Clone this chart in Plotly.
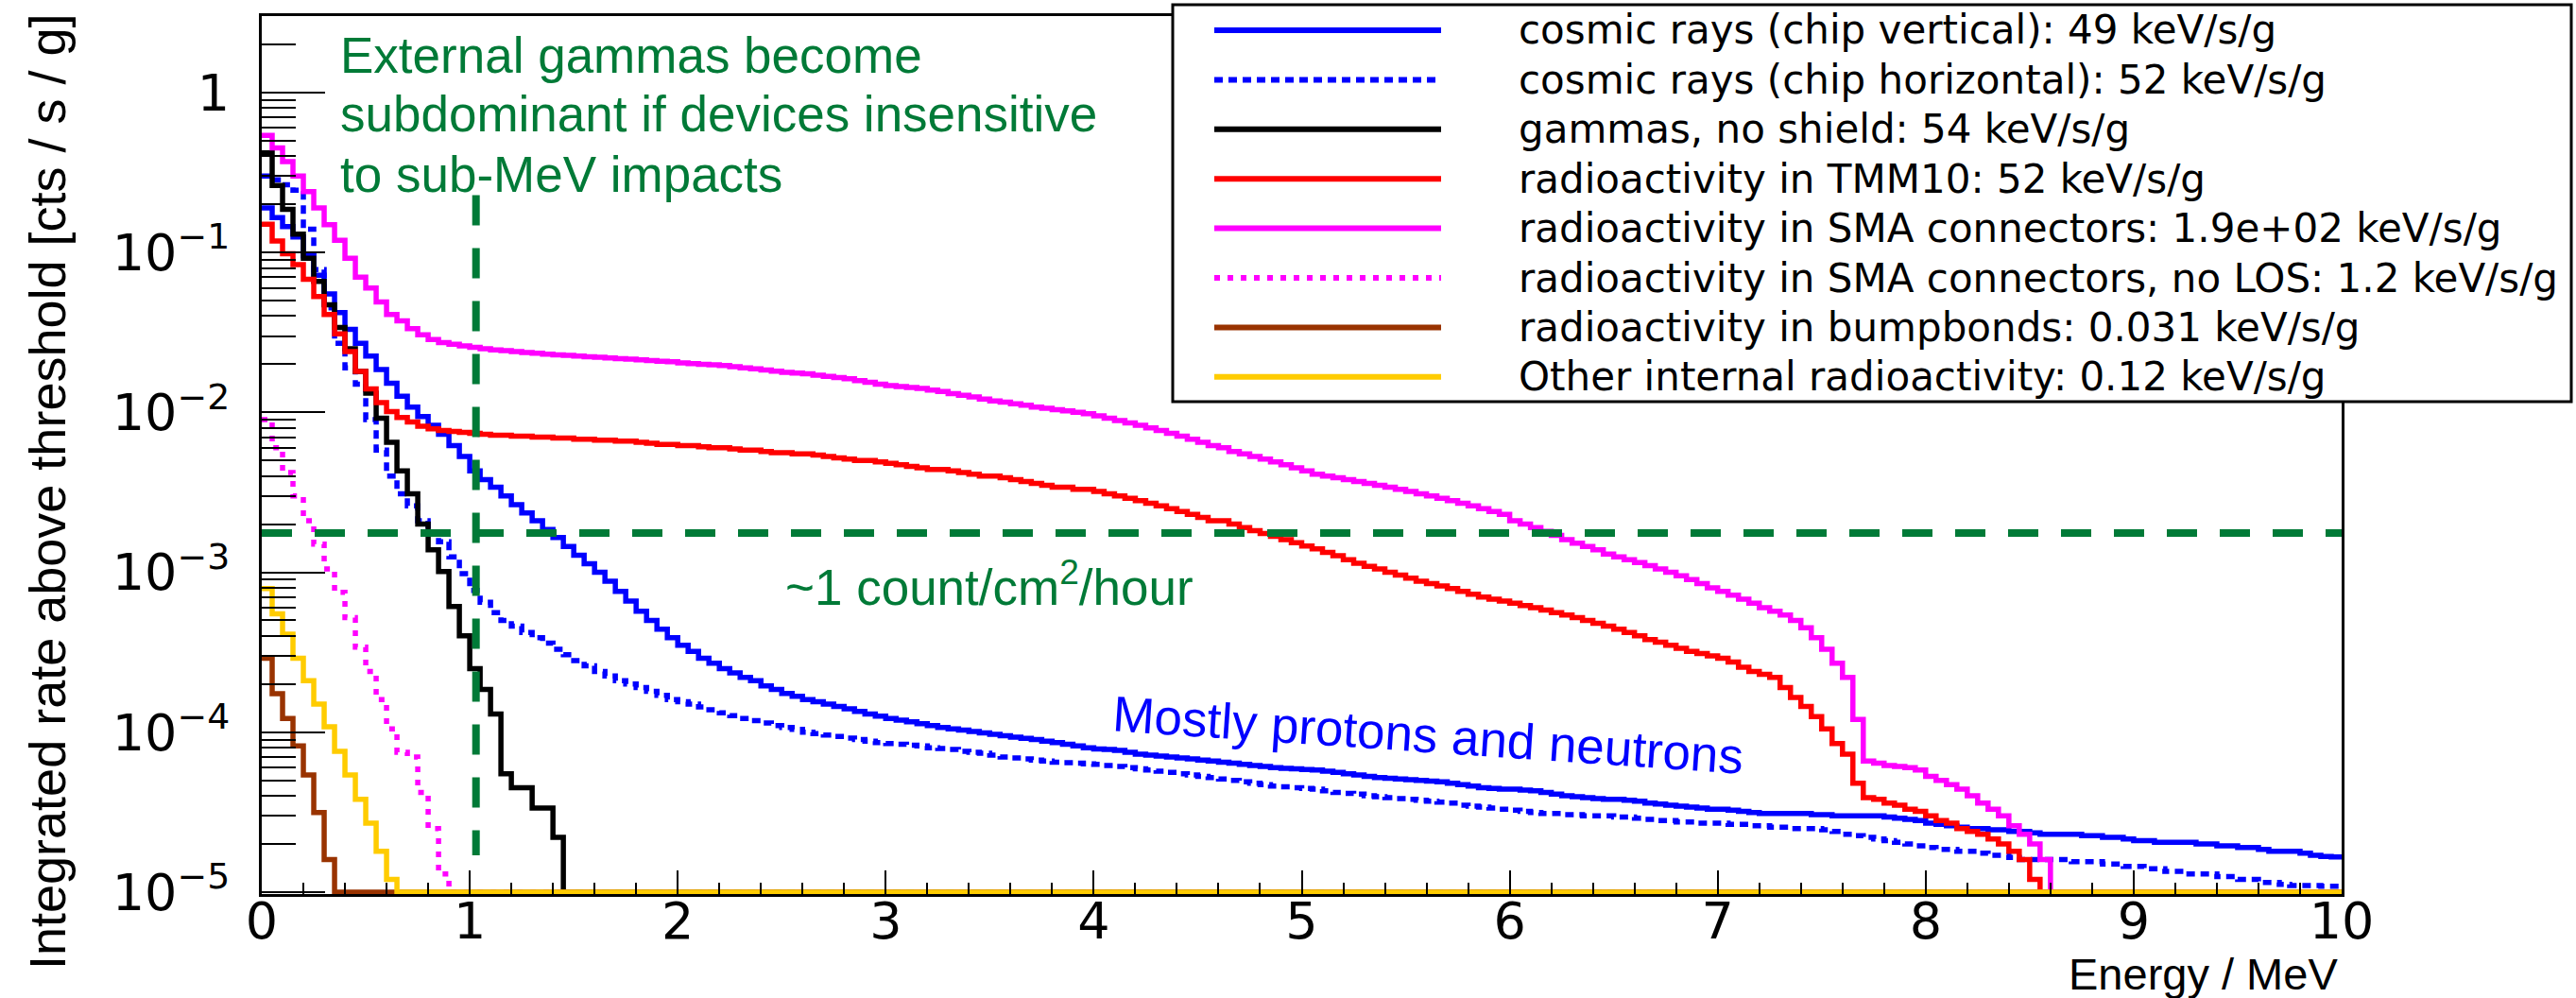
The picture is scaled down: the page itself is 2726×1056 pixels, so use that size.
import numpy as np
import plotly.graph_objects as go

# ---------------------------------------------------------------------------
# Integrated rate above threshold, histogrammed in 0.05 MeV bins from 0 to 10 MeV.
# Each list gives the rate [cts/s/g] per bin, starting at 0 MeV; bins not listed are empty.
# ---------------------------------------------------------------------------
BIN_WIDTH = 0.05
E_MAX = 10.0

cosmic_vertical = [
    0.19, 0.165, 0.145, 0.125, 0.095, 0.072, 0.055, 0.042, 0.033, 0.027,
    0.0225, 0.0185, 0.0152, 0.0126, 0.0108, 0.0094, 0.0083, 0.0073, 0.0062, 0.0053,
    4.3e-3, 3.8e-3, 3.4e-3, 3.0e-3, 2.65e-3, 2.35e-3, 2.1e-3, 1.85e-3, 1.65e-3, 1.45e-3,
    1.28e-3, 1.13e-3, 1.0e-3, 8.8e-4, 7.6e-4, 6.6e-4, 5.7e-4, 5.0e-4, 4.4e-4, 3.9e-4,
    3.5e-4, 3.2e-4, 2.9e-4, 2.7e-4, 2.5e-4, 2.35e-4, 2.2e-4, 2.1e-4, 1.95e-4, 1.85e-4,
    1.75e-4, 1.68e-4, 1.6e-4, 1.55e-4, 1.5e-4, 1.45e-4, 1.4e-4, 1.35e-4, 1.3e-4, 1.26e-4,
    1.22e-4, 1.19e-4, 1.16e-4, 1.13e-4, 1.1e-4, 1.07e-4, 1.05e-4, 1.03e-4, 1.01e-4, 9.9e-5,
    9.7e-5, 9.5e-5, 9.3e-5, 9.15e-5, 9.0e-5, 8.8e-5, 8.6e-5, 8.4e-5, 8.2e-5, 8.0e-5,
    7.85e-5, 7.8e-5, 7.7e-5, 7.5e-5, 7.3e-5, 7.2e-5, 7.1e-5, 7.0e-5, 6.9e-5, 6.8e-5,
    6.7e-5, 6.6e-5, 6.5e-5, 6.4e-5, 6.3e-5, 6.2e-5, 6.1e-5, 6.0e-5, 5.95e-5, 5.9e-5,
    5.85e-5, 5.8e-5, 5.7e-5, 5.6e-5, 5.5e-5, 5.4e-5, 5.3e-5, 5.2e-5, 5.15e-5, 5.1e-5,
    5.05e-5, 5.0e-5, 4.95e-5, 4.9e-5, 4.8e-5, 4.7e-5, 4.6e-5, 4.5e-5, 4.45e-5, 4.4e-5,
    4.4e-5, 4.35e-5, 4.3e-5, 4.2e-5, 4.1e-5, 4.0e-5, 3.95e-5, 3.9e-5, 3.85e-5, 3.8e-5,
    3.8e-5, 3.75e-5, 3.7e-5, 3.6e-5, 3.55e-5, 3.5e-5, 3.45e-5, 3.4e-5, 3.35e-5, 3.3e-5,
    3.3e-5, 3.25e-5, 3.2e-5, 3.15e-5, 3.1e-5, 3.1e-5, 3.1e-5, 3.1e-5, 3.1e-5, 3.05e-5,
    3.05e-5, 3.0e-5, 3.0e-5, 3.0e-5, 3.0e-5, 3.0e-5, 2.95e-5, 2.9e-5, 2.85e-5, 2.8e-5,
    2.7e-5, 2.65e-5, 2.6e-5, 2.55e-5, 2.5e-5, 2.5e-5, 2.45e-5, 2.45e-5, 2.4e-5, 2.4e-5,
    2.35e-5, 2.3e-5, 2.3e-5, 2.3e-5, 2.3e-5, 2.25e-5, 2.25e-5, 2.2e-5, 2.2e-5, 2.15e-5,
    2.1e-5, 2.1e-5, 2.05e-5, 2.05e-5, 2.05e-5, 2.05e-5, 2.0e-5, 2.0e-5, 1.95e-5, 1.95e-5,
    1.9e-5, 1.9e-5, 1.85e-5, 1.8e-5, 1.8e-5, 1.8e-5, 1.75e-5, 1.7e-5, 1.67e-5, 1.66e-5,
]

cosmic_horizontal = [
    0.30, 0.285, 0.265, 0.245, 0.14, 0.078, 0.045, 0.027, 0.019, 0.015,
    9.0e-3, 5.8e-3, 4.0e-3, 3.1e-3, 2.6e-3, 2.1e-3, 1.78e-3, 1.55e-3, 1.25e-3, 9.8e-4,
    7.7e-4, 6.5e-4, 5.6e-4, 5.0e-4, 4.6e-4, 4.2e-4, 3.9e-4, 3.6e-4, 3.3e-4, 3.05e-4,
    2.8e-4, 2.6e-4, 2.4e-4, 2.25e-4, 2.1e-4, 2.0e-4, 1.9e-4, 1.8e-4, 1.7e-4, 1.6e-4,
    1.55e-4, 1.5e-4, 1.44e-4, 1.38e-4, 1.32e-4, 1.27e-4, 1.22e-4, 1.18e-4, 1.14e-4, 1.1e-4,
    1.07e-4, 1.04e-4, 1.0e-4, 9.8e-5, 9.6e-5, 9.4e-5, 9.2e-5, 9.0e-5, 8.8e-5, 8.6e-5,
    8.5e-5, 8.4e-5, 8.3e-5, 8.2e-5, 8.0e-5, 7.9e-5, 7.8e-5, 7.6e-5, 7.5e-5, 7.4e-5,
    7.2e-5, 7.0e-5, 6.9e-5, 6.8e-5, 6.7e-5, 6.6e-5, 6.5e-5, 6.45e-5, 6.4e-5, 6.35e-5,
    6.3e-5, 6.2e-5, 6.1e-5, 6.0e-5, 5.9e-5, 5.8e-5, 5.7e-5, 5.6e-5, 5.5e-5, 5.4e-5,
    5.3e-5, 5.2e-5, 5.1e-5, 5.0e-5, 4.9e-5, 4.8e-5, 4.7e-5, 4.6e-5, 4.55e-5, 4.5e-5,
    4.45e-5, 4.4e-5, 4.3e-5, 4.2e-5, 4.15e-5, 4.1e-5, 4.0e-5, 3.95e-5, 3.9e-5, 3.85e-5,
    3.8e-5, 3.75e-5, 3.7e-5, 3.65e-5, 3.6e-5, 3.5e-5, 3.45e-5, 3.4e-5, 3.35e-5, 3.3e-5,
    3.25e-5, 3.2e-5, 3.15e-5, 3.1e-5, 3.1e-5, 3.05e-5, 3.05e-5, 3.0e-5, 3.0e-5, 3.0e-5,
    2.95e-5, 2.95e-5, 2.9e-5, 2.85e-5, 2.8e-5, 2.8e-5, 2.75e-5, 2.75e-5, 2.7e-5, 2.7e-5,
    2.7e-5, 2.65e-5, 2.65e-5, 2.6e-5, 2.6e-5, 2.55e-5, 2.55e-5, 2.5e-5, 2.5e-5, 2.5e-5,
    2.45e-5, 2.4e-5, 2.3e-5, 2.25e-5, 2.2e-5, 2.15e-5, 2.1e-5, 2.05e-5, 2.0e-5, 1.95e-5,
    1.9e-5, 1.85e-5, 1.85e-5, 1.8e-5, 1.8e-5, 1.75e-5, 1.7e-5, 1.7e-5, 1.65e-5, 1.6e-5,
    1.6e-5, 1.6e-5, 1.6e-5, 1.6e-5, 1.55e-5, 1.55e-5, 1.55e-5, 1.5e-5, 1.5e-5, 1.45e-5,
    1.45e-5, 1.4e-5, 1.4e-5, 1.35e-5, 1.35e-5, 1.3e-5, 1.3e-5, 1.3e-5, 1.25e-5, 1.25e-5,
    1.2e-5, 1.2e-5, 1.15e-5, 1.15e-5, 1.12e-5, 1.1e-5, 1.1e-5, 1.1e-5, 1.09e-5, 1.09e-5,
]

gammas_no_shield = [
    0.42, 0.262, 0.186, 0.130, 0.092, 0.066, 0.047, 0.034, 0.025, 0.018,
    0.0132, 0.0092, 0.0065, 0.0043, 0.0031, 0.0020, 0.00138, 0.00101, 6.1e-4, 4.0e-4,
    2.5e-4, 1.85e-4, 1.3e-4, 5.5e-5, 4.5e-5, 4.5e-5, 3.35e-5, 3.35e-5, 2.2e-5,
]

tmm10 = [
    0.15, 0.118, 0.098, 0.084, 0.068, 0.053, 0.041, 0.031, 0.024, 0.018,
    0.0140, 0.0115, 0.0101, 0.0093, 0.0087, 0.0082, 0.0079, 0.0077, 0.0076, 0.0075,
    0.0074, 0.0073, 0.0072, 0.0072, 0.0071, 0.0071, 0.0070, 0.0070, 0.0069, 0.0069,
    0.0068, 0.0068, 0.0067, 0.0067, 0.0066, 0.0066, 0.0065, 0.0064, 0.0063, 0.0063,
    0.0062, 0.0062, 0.0061, 0.0060, 0.0060, 0.0059, 0.0058, 0.0058, 0.0057, 0.0056,
    0.0056, 0.0055, 0.0055, 0.0054, 0.0053, 0.0052, 0.0051, 0.0050, 0.0050, 0.0049,
    0.0048, 0.0047, 0.0046, 0.0045, 0.0044, 0.0044, 0.0043, 0.0042, 0.0041, 0.0040,
    0.0040, 0.0039, 0.0038, 0.0037, 0.0036, 0.0035, 0.0034, 0.0034, 0.0033, 0.0033,
    0.0032, 0.0031, 0.0030, 0.0029, 0.0028, 0.0027, 0.0026, 0.0025, 0.0024, 0.0023,
    0.0022, 0.0021, 0.0021, 0.0020, 0.0019, 0.00182, 0.00175, 0.00168, 0.0016, 0.00153,
    0.00146, 0.0014, 0.00133, 0.00127, 0.0012, 0.00114, 0.00109, 0.00105, 0.0010, 9.6e-4,
    9.2e-4, 8.8e-4, 8.5e-4, 8.2e-4, 7.9e-4, 7.6e-4, 7.3e-4, 7.0e-4, 6.8e-4, 6.6e-4,
    6.4e-4, 6.2e-4, 6.0e-4, 5.8e-4, 5.6e-4, 5.4e-4, 5.2e-4, 5.0e-4, 4.8e-4, 4.6e-4,
    4.4e-4, 4.2e-4, 4.0e-4, 3.8e-4, 3.65e-4, 3.5e-4, 3.35e-4, 3.2e-4, 3.1e-4, 3.0e-4,
    2.9e-4, 2.75e-4, 2.55e-4, 2.4e-4, 2.3e-4, 2.2e-4, 1.9e-4, 1.65e-4, 1.45e-4, 1.25e-4,
    1.05e-4, 8.5e-5, 7.3e-5, 4.8e-5, 3.9e-5, 3.8e-5, 3.6e-5, 3.5e-5, 3.3e-5, 3.2e-5,
    3.0e-5, 2.8e-5, 2.7e-5, 2.5e-5, 2.4e-5, 2.3e-5, 2.15e-5, 2.0e-5, 1.8e-5, 1.6e-5,
    1.2e-5,
]

sma_connectors = [
    0.54, 0.45, 0.37, 0.30, 0.24, 0.19, 0.149, 0.119, 0.092, 0.070,
    0.060, 0.049, 0.041, 0.0374, 0.0334, 0.0305, 0.0285, 0.0273, 0.0267, 0.0260,
    0.0255, 0.0250, 0.0246, 0.0243, 0.0240, 0.0237, 0.0234, 0.0231, 0.0229, 0.0227,
    0.0225, 0.0223, 0.0221, 0.0219, 0.0217, 0.0215, 0.0213, 0.0211, 0.0209, 0.0207,
    0.0204, 0.0202, 0.0200, 0.0198, 0.0196, 0.0193, 0.0190, 0.0187, 0.0184, 0.0181,
    0.0178, 0.0176, 0.0174, 0.0171, 0.0168, 0.0165, 0.0162, 0.0158, 0.0154, 0.0150,
    0.0147, 0.0145, 0.0143, 0.0141, 0.0138, 0.0135, 0.0131, 0.0128, 0.0125, 0.0121,
    0.0118, 0.0116, 0.0113, 0.0111, 0.0108, 0.0106, 0.0104, 0.0102, 0.0100, 0.0098,
    0.0095, 0.0092, 0.0089, 0.0086, 0.0083, 0.0080, 0.0077, 0.0074, 0.0071, 0.0068,
    0.0065, 0.0062, 0.0060, 0.0057, 0.0055, 0.0053, 0.0051, 0.0049, 0.0047, 0.0045,
    0.0043, 0.0041, 0.0040, 0.0039, 0.0038, 0.0037, 0.0036, 0.0035, 0.0034, 0.0033,
    0.0032, 0.0031, 0.0030, 0.0029, 0.0028, 0.0027, 0.0026, 0.0025, 0.0024, 0.0023,
    0.0021, 0.0020, 0.0019, 0.0018, 0.0017, 0.0016, 0.00152, 0.00145, 0.00138, 0.0013,
    0.00125, 0.0012, 0.00115, 0.0011, 0.00105, 0.0010, 9.5e-4, 9.0e-4, 8.5e-4, 8.0e-4,
    7.6e-4, 7.2e-4, 6.8e-4, 6.4e-4, 6.0e-4, 5.7e-4, 5.4e-4, 5.0e-4, 4.5e-4, 3.9e-4,
    3.3e-4, 2.7e-4, 2.2e-4, 1.2e-4, 6.6e-5, 6.4e-5, 6.2e-5, 6.1e-5, 6.0e-5, 5.8e-5,
    5.3e-5, 5.0e-5, 4.7e-5, 4.4e-5, 4.0e-5, 3.6e-5, 3.3e-5, 3.0e-5, 2.6e-5, 2.3e-5,
    2.0e-5, 1.6e-5,
]

sma_connectors_no_los = [
    0.0090, 0.0060, 0.0042, 0.0030, 0.0021, 0.0015, 0.00105, 7.5e-4, 5.2e-4, 3.4e-4,
    2.4e-4, 1.6e-4, 1.05e-4, 7.5e-5, 7.0e-5, 4.2e-5, 2.5e-5, 1.3e-5,
]

bumpbonds = [2.9e-4, 1.74e-4, 1.22e-4, 8.2e-5, 5.4e-5, 3.15e-5, 1.6e-5]

other_internal = [
    7.9e-4, 5.5e-4, 4.1e-4, 2.9e-4, 2.1e-4, 1.5e-4, 1.08e-4, 7.6e-5, 5.4e-5, 3.8e-5,
    2.7e-5, 1.8e-5, 1.2e-5,
]

legend_labels = [
    "cosmic rays (chip vertical): 49 keV/s/g",
    "cosmic rays (chip horizontal): 52 keV/s/g",
    "gammas, no shield: 54 keV/s/g",
    "radioactivity in TMM10: 52 keV/s/g",
    "radioactivity in SMA connectors: 1.9e+02 keV/s/g",
    "radioactivity in SMA connectors, no LOS: 1.2 keV/s/g",
    "radioactivity in bumpbonds: 0.031 keV/s/g",
    "Other internal radioactivity: 0.12 keV/s/g",
]

# Reference levels shown as dashed guide lines
rate_one_per_cm2_hour = 1.76e-3    # cts/s/g
sub_mev_threshold = 1.03           # MeV

x_tick_values = list(range(0, 11))
y_tick_values = [1e-5, 1e-4, 1e-3, 1e-2, 1e-1, 1.0]
y_tick_text = ["10<sup>\u22125</sup>", "10<sup>\u22124</sup>", "10<sup>\u22123</sup>",
               "10<sup>\u22122</sup>", "10<sup>\u22121</sup>", "1"]

# ---------------------------------------------------------------------------
# Styling
# ---------------------------------------------------------------------------
series = [
    (cosmic_vertical,       "#0000ff", "solid"),
    (cosmic_horizontal,     "#0000ff", "9px,6px"),
    (gammas_no_shield,      "#000000", "solid"),
    (tmm10,                 "#ff0000", "solid"),
    (sma_connectors,        "#ff00ff", "solid"),
    (sma_connectors_no_los, "#ff00ff", "6px,8px"),
    (bumpbonds,             "#993300", "solid"),
    (other_internal,        "#ffcc00", "solid"),
]

GREEN = "#007a37"
ROOT_FONT = "DejaVu Sans, Liberation Sans, Arial, sans-serif"
NOTE_FONT = "Liberation Sans, Arial, sans-serif"

W, H = 2726, 1056
L, R, T, B = 277, 248, 17, 110          # frame margins in px
PW, PH = W - L - R, H - T - B
Y_LOG_MIN, Y_LOG_MAX = -5.012, 0.478
AXIS_FLOOR = 1e-5                       # empty bins sit on the frame bottom


def px(x):
    return (x - L) / PW


def py(y):
    return (H - B - y) / PH


n_bins = int(round(E_MAX / BIN_WIDTH))
edges = np.round(np.arange(n_bins + 1) * BIN_WIDTH, 4)

fig = go.Figure()

for (values, color, dash), label in zip(series, legend_labels):
    content = np.zeros(n_bins)
    content[:len(values)] = values
    content = np.where(content > 0, content, AXIS_FLOOR)
    fig.add_trace(go.Scatter(
        x=edges, y=np.append(content, content[-1]),
        mode="lines", name=label, showlegend=False,
        line=dict(shape="hv", color=color, width=5.5, dash=dash),
    ))

# dashed guide lines
fig.add_trace(go.Scatter(
    x=[0, E_MAX], y=[rate_one_per_cm2_hour, rate_one_per_cm2_hour],
    mode="lines", showlegend=False, hoverinfo="skip",
    line=dict(color=GREEN, width=8, dash="32px,24px"),
))
fig.add_trace(go.Scatter(
    x=[sub_mev_threshold, sub_mev_threshold], y=[0.228, 1.7e-5],
    mode="lines", showlegend=False, hoverinfo="skip",
    line=dict(color=GREEN, width=8, dash="32px,24px"),
))

minor_y = [m * 10.0 ** k for k in range(-5, 1) for m in range(2, 10) if m * 10.0 ** k < 10 ** Y_LOG_MAX]

fig.update_xaxes(
    range=[0, E_MAX], showgrid=False, zeroline=False,
    showline=True, linecolor="black", linewidth=3, mirror=True,
    ticks="inside", ticklen=25, tickwidth=2, tickcolor="black",
    tickmode="array", tickvals=x_tick_values,
    minor=dict(ticks="inside", ticklen=12, tickwidth=2, tickcolor="black", dtick=0.2, tick0=0),
    tickfont=dict(family=ROOT_FONT, size=54, color="black"),
    ticklabelstandoff=-21,
)
fig.update_yaxes(
    type="log", range=[Y_LOG_MIN, Y_LOG_MAX], showgrid=False, zeroline=False,
    showline=True, linecolor="black", linewidth=3, mirror=True,
    ticks="inside", ticklen=67, tickwidth=2, tickcolor="black",
    tickmode="array", tickvals=y_tick_values, ticktext=y_tick_text,
    minor=dict(ticks="inside", ticklen=36, tickwidth=2, tickcolor="black",
               tickmode="array", tickvals=minor_y),
    tickfont=dict(family=ROOT_FONT, size=54, color="black"),
    ticklabelstandoff=20,
)

annotations = []
shapes = []

# axis titles
annotations.append(dict(
    text="Integrated rate above threshold [cts / s / g]", textangle=-90,
    x=px(50), y=py(520), xref="paper", yref="paper", xanchor="center", yanchor="middle",
    showarrow=False, font=dict(family=NOTE_FONT, size=54, color="black"),
))
annotations.append(dict(
    text="Energy / MeV", x=px(2476), y=py(1030), xref="paper", yref="paper",
    xanchor="right", yanchor="middle", showarrow=False,
    font=dict(family=NOTE_FONT, size=47, color="black"),
))

# notes
for line, yc in zip(["External gammas become",
                     "subdominant if devices insensitive",
                     "to sub-MeV impacts"], [58, 121, 184]):
    annotations.append(dict(
        text=line, x=px(358), y=py(yc), xref="paper", yref="paper",
        xanchor="left", yanchor="middle", showarrow=False,
        font=dict(family=NOTE_FONT, size=53, color=GREEN),
    ))
annotations.append(dict(
    text="~1 count/cm<sup>2</sup>/hour", x=px(1047), y=py(617), xref="paper", yref="paper",
    xanchor="center", yanchor="middle", showarrow=False,
    font=dict(family=NOTE_FONT, size=53, color=GREEN),
))
annotations.append(dict(
    text="Mostly protons and neutrons", x=px(1511), y=py(777), xref="paper", yref="paper",
    xanchor="center", yanchor="middle", showarrow=False, textangle=3.9,
    font=dict(family=NOTE_FONT, size=53, color="#0000ff"),
))

# legend box
shapes.append(dict(type="rect", xref="paper", yref="paper",
                   x0=px(1241), x1=px(2721), y0=py(425), y1=py(5),
                   line=dict(color="black", width=3), fillcolor="white", layer="above"))
for i, ((values, color, dash), label) in enumerate(zip(series, legend_labels)):
    yrow = 32 + 52.4 * i
    shapes.append(dict(type="line", xref="paper", yref="paper",
                       x0=px(1285), x1=px(1525), y0=py(yrow), y1=py(yrow),
                       line=dict(color=color, width=6, dash=dash), layer="above"))
    annotations.append(dict(
        text=label, x=px(1605), y=py(yrow), xref="paper", yref="paper",
        xanchor="left", yanchor="middle", showarrow=False,
        font=dict(family=ROOT_FONT, size=42, color="black"),
    ))

fig.update_layout(
    width=W, height=H, autosize=False,
    margin=dict(l=L, r=R, t=T, b=B, pad=0),
    paper_bgcolor="white", plot_bgcolor="white",
    showlegend=False, annotations=annotations, shapes=shapes,
)

fig.write_html("out.html")
